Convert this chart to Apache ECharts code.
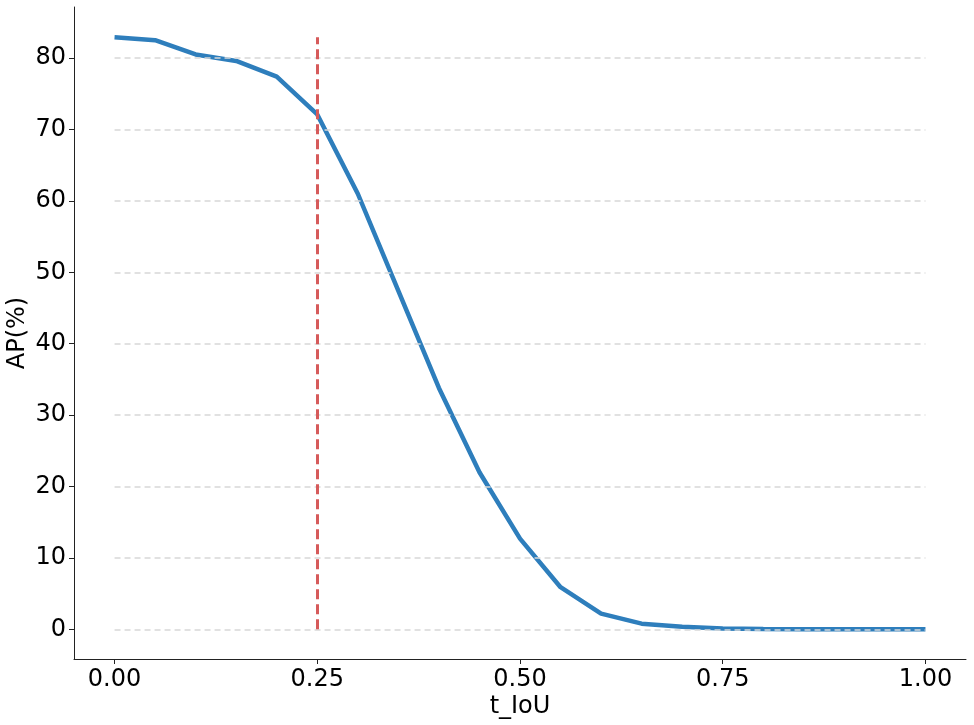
<!DOCTYPE html>
<html>
<head>
<meta charset="utf-8">
<script src="https://cdn.jsdelivr.net/npm/echarts@6/dist/echarts.min.js"></script>
<style>
  html, body { margin: 0; padding: 0; background: #fff; }
  #main { width: 974px; height: 725px; }
</style>
</head>
<body>
<div id="main"></div>
<script>
// data
const tIoU = [0, 0.05, 0.1, 0.15, 0.2, 0.25, 0.3, 0.35, 0.4, 0.45, 0.5,
              0.55, 0.6, 0.65, 0.7, 0.75, 0.8, 0.85, 0.9, 0.95, 1.0];
const ap = [82.9, 82.5, 80.5, 79.6, 77.4, 72.1, 61.0, 47.4, 33.8, 22.0, 12.7,
            5.9, 2.2, 0.8, 0.35, 0.12, 0.05, 0.03, 0.02, 0.01, 0.0];
const xTicks = [0, 0.25, 0.5, 0.75, 1.0];
const yTicks = [0, 10, 20, 30, 40, 50, 60, 70, 80];
const chosenT = 0.25;

const font = 'DejaVu Sans';
const apMax = Math.max(...ap);

let myChart = echarts.init(document.getElementById('main'));

let option = {
  animation: false,
  grid: { left: 74, right: 8, top: 7, bottom: 66, containLabel: false, outerBoundsMode: 'none' },
  xAxis: {
    type: 'value',
    min: -0.05,
    max: 1.05,
    name: 't_IoU',
    nameLocation: 'middle',
    nameGap: 36,
    nameMoveOverlap: false,
    nameTextStyle: { fontFamily: font, fontSize: 24, color: '#000' },
    axisLine: { show: true, onZero: false, lineStyle: { color: '#222', width: 1 } },
    axisTick: { show: true, customValues: xTicks, length: 5, lineStyle: { color: '#222' } },
    axisLabel: {
      customValues: xTicks,
      formatter: v => v.toFixed(2),
      fontFamily: font, fontSize: 24, color: '#000', margin: 9
    },
    splitLine: { show: false }
  },
  yAxis: {
    type: 'value',
    min: -4.15,
    max: 87.15,
    name: 'AP(%)',
    nameLocation: 'middle',
    nameGap: 44,
    nameMoveOverlap: false,
    nameTextStyle: { fontFamily: font, fontSize: 24, color: '#000' },
    axisLine: { show: true, onZero: false, lineStyle: { color: '#222', width: 1 } },
    axisTick: { show: true, customValues: yTicks, length: 5, lineStyle: { color: '#222' } },
    axisLabel: {
      customValues: yTicks,
      fontFamily: font, fontSize: 24, color: '#000', margin: 8
    },
    splitLine: { show: false }
  },
  series: [
    {
      // dashed horizontal guides from x=0 to x=1
      type: 'line',
      data: [],
      silent: true,
      markLine: {
        silent: true,
        symbol: 'none',
        label: { show: false },
        lineStyle: { color: '#d8d8d8', type: [6, 4], width: 1.5 },
        data: yTicks.map(v => [{ coord: [tIoU[0], v] }, { coord: [tIoU[tIoU.length - 1], v] }])
      }
    },
    {
      type: 'line',
      data: tIoU.map((t, i) => [t, ap[i]]),
      showSymbol: false,
      lineStyle: { color: '#2e7ebc', width: 4.5 },
      z: 3
    },
    {
      type: 'line',
      data: [],
      silent: true,
      markLine: {
        silent: true,
        symbol: 'none',
        label: { show: false },
        lineStyle: { color: '#d65a5a', type: [10, 5], width: 3 },
        data: [[{ coord: [chosenT, 0] }, { coord: [chosenT, apMax] }]]
      },
      z: 2
    }
  ]
};

myChart.setOption(option);
</script>
</body>
</html>
